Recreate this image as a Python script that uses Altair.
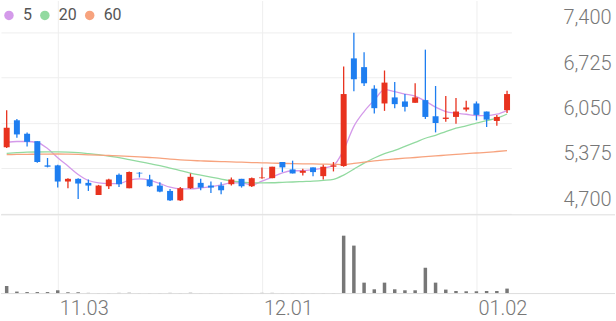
import altair as alt
import pandas as pd

# ---- data ----
opens = [5690, 6090, 5890, 5780, 5420, 5420, 5180, 5220, 5160, 4980,
         5110, 5280, 5080, 5310, 5210, 5120, 5040, 4900, 5080, 5160,
         5120, 5120, 5140, 5220, 5110, 5230, 5230, 5470, 5360, 5310,
         5390, 5260, 5400, 5410, 7010, 6880, 6560, 6340, 6430, 6370,
         6350, 6390, 6150, 6110, 6140, 6250, 6340, 6220, 6080, 6240]
highs = [6240, 6110, 5910, 5780, 5530, 5430, 5230, 5230, 5210, 5130,
         5220, 5300, 5330, 5320, 5280, 5170, 5070, 5100, 5300, 5220,
         5180, 5170, 5240, 5220, 5240, 5390, 5400, 5470, 5490, 5370,
         5390, 5430, 5470, 6890, 7390, 7100, 6610, 6830, 6660, 6480,
         6640, 7140, 6600, 6450, 6420, 6380, 6370, 6220, 6170, 6530]
lows = [5680, 5830, 5700, 5460, 5390, 5090, 5080, 4920, 5040, 4980,
        5070, 5100, 5080, 5240, 5100, 5020, 4890, 4890, 5070, 5050,
        5010, 4990, 5120, 5090, 5100, 5220, 5230, 5320, 5300, 5270,
        5260, 5210, 5330, 5400, 6520, 6600, 6190, 6230, 6270, 6220,
        6350, 6110, 5910, 6070, 6040, 6220, 6090, 5990, 6010, 6200]
closes = [5980, 5880, 5770, 5470, 5400, 5180, 5220, 5150, 5120, 5120,
          5210, 5140, 5320, 5300, 5110, 5030, 4900, 5080, 5250, 5090,
          5090, 5050, 5210, 5110, 5230, 5240, 5400, 5390, 5300, 5340,
          5320, 5400, 5420, 6480, 6700, 6640, 6270, 6650, 6330, 6290,
          6430, 6140, 6050, 6130, 6220, 6280, 6170, 6100, 6140, 6480]
volumes = [152, 40, 30, 30, 30, 66, 26, 26, 14, 12,
           12, 14, 16, 10, 12, 12, 14, 12, 16, 10,
           10, 12, 10, 10, 12, 14, 14, 10, 12, 10,
           10, 12, 12, 1166, 966, 220, 86, 220, 86, 66,
           66, 520, 220, 80, 52, 46, 46, 52, 52, 100]
ma5 = [5760, 5775, 5775, 5760, 5670, 5535, 5410, 5285, 5195, 5160,
       5150, 5150, 5200, 5220, 5200, 5150, 5095, 5070, 5070, 5085,
       5105, 5130, 5160, 5160, 5130, 5185, 5245, 5310, 5340, 5340,
       5355, 5380, 5420, 5650, 6000, 6220, 6390, 6545, 6515, 6480,
       6450, 6375, 6285, 6220, 6195, 6180, 6160, 6160, 6180, 6235]
ma20 = [5598, 5608, 5616, 5619, 5620, 5620, 5616, 5608, 5594, 5579,
        5557, 5535, 5505, 5476, 5446, 5416, 5380, 5343, 5306, 5276,
        5247, 5217, 5187, 5173, 5161, 5161, 5162, 5168, 5173, 5180,
        5187, 5198, 5213, 5276, 5365, 5453, 5530, 5594, 5642, 5701,
        5761, 5823, 5867, 5923, 5973, 6007, 6047, 6086, 6121, 6184]
ma60 = [5579, 5582, 5585, 5586, 5588, 5589, 5586, 5582, 5577, 5573,
        5567, 5561, 5554, 5546, 5537, 5527, 5512, 5501, 5493, 5487,
        5481, 5476, 5471, 5467, 5462, 5458, 5453, 5450, 5446, 5443,
        5442, 5439, 5436, 5431, 5449, 5468, 5486, 5502, 5515, 5527,
        5537, 5549, 5561, 5571, 5582, 5594, 5604, 5614, 5626, 5638]
ma_names = ["5", "20", "60"]
ma_colors = ["#d49aea", "#92daa0", "#f7a37e"]
price_ticks = [4700, 5375, 6050, 6725, 7400]
tick_idx = [5, 25, 46]
tick_labels = ["11.03", "12.01", "01.02"]

RED = "#e8321e"
BLUE = "#1e7ef0"
GRID = "#eeeeee"
LINE = "#dddddd"
LABEL = "#777777"

n = len(closes)
df = pd.DataFrame({"i": list(range(n)), "open": opens, "high": highs,
                   "low": lows, "close": closes, "vol": volumes})
ma = pd.DataFrame({
    "i": list(range(n)) * 3,
    "ma": ma5 + ma20 + ma60,
    "series": [ma_names[0]] * n + [ma_names[1]] * n + [ma_names[2]] * n,
})

xscale = alt.Scale(domain=[-0.556, 49.42], nice=False, zero=False, padding=0)
yscale = alt.Scale(domain=[4700, 7870], nice=False, zero=False)
vmax = 1586
vscale = alt.Scale(domain=[0, vmax], nice=False, zero=True)

label_expr = ""
for v, t in zip(tick_idx, tick_labels):
    label_expr += f"datum.value == {v} ? '{t}' : "
label_expr += "''"

x_price = alt.X("i:Q", scale=xscale,
                axis=alt.Axis(values=tick_idx, labels=False, ticks=False,
                              domain=False, grid=True, gridColor=GRID,
                              title=None))
y_axis = alt.Axis(orient="right", values=price_ticks, format=",d",
                  labelAlign="right", labelPadding=100, labelOffset=-14.5,
                  labelBaseline="middle", labelFontSize=20, labelColor=LABEL,
                  labelFont="Roboto", labelFontWeight=300, grid=True,
                  gridColor=GRID, ticks=False, domain=False, title=None)

candle_color = alt.condition("datum.close >= datum.open",
                             alt.value(RED), alt.value(BLUE))

legend_pts = alt.Chart(ma).mark_circle(opacity=0).encode(
    x=x_price,
    y=alt.Y("ma:Q", scale=yscale, axis=y_axis),
    fill=alt.Fill("series:N",
                  scale=alt.Scale(domain=ma_names, range=ma_colors),
                  legend=alt.Legend(orient="none", legendX=0, legendY=7,
                                    direction="horizontal", title=None,
                                    columns=3, gridAlign="none",
                                    symbolType="circle", symbolSize=90,
                                    symbolOpacity=1, symbolStrokeWidth=0,
                                    labelFontSize=16, labelColor="#555555",
                                    labelFont="Roboto", labelOffset=6,
                                    columnPadding=5, padding=0)),
)

lines = alt.Chart(ma).mark_line(strokeWidth=1.3, interpolate="monotone").encode(
    x="i:Q",
    y="ma:Q",
    color=alt.Color("series:N",
                    scale=alt.Scale(domain=ma_names, range=ma_colors),
                    legend=None),
)

wicks = alt.Chart(df).mark_rule(strokeWidth=1.3).encode(
    x="i:Q", y="low:Q", y2="high:Q", color=candle_color)

bodies = alt.Chart(df).mark_bar(size=6).encode(
    x="i:Q", y="open:Q", y2="close:Q", color=candle_color)

price = alt.layer(legend_pts, lines, wicks, bodies).properties(width=512, height=214)

vol_bars = alt.Chart(df).mark_bar(size=3.5, color="#777777").encode(
    x=alt.X("i:Q", scale=xscale,
            axis=alt.Axis(values=tick_idx, labelExpr=label_expr,
                          labelAlign="left", labelOffset=1.5,
                          labelBaseline="middle", labelPadding=15,
                          labelFontSize=20, labelColor=LABEL,
                          labelFont="Roboto", labelFontWeight=300,
                          labelFlush=False, grid=True, gridColor=GRID,
                          ticks=False, domain=False, title=None)),
    y=alt.Y("vol:Q", scale=vscale, axis=None),
)

sep = alt.Chart(pd.DataFrame({"v": [0, vmax]})).mark_rule(
    color=LINE, strokeWidth=1).encode(
    y=alt.Y("v:Q", scale=vscale, axis=None),
    x=alt.value(0), x2=alt.value(616))

volume = alt.layer(vol_bars, sep).properties(width=512, height=79)

chart = alt.vconcat(price, volume, spacing=0).properties(
    padding=0, background="white"
).configure_view(stroke=None)

chart.save("out.html", embed_options={"renderer": "svg", "actions": False})
